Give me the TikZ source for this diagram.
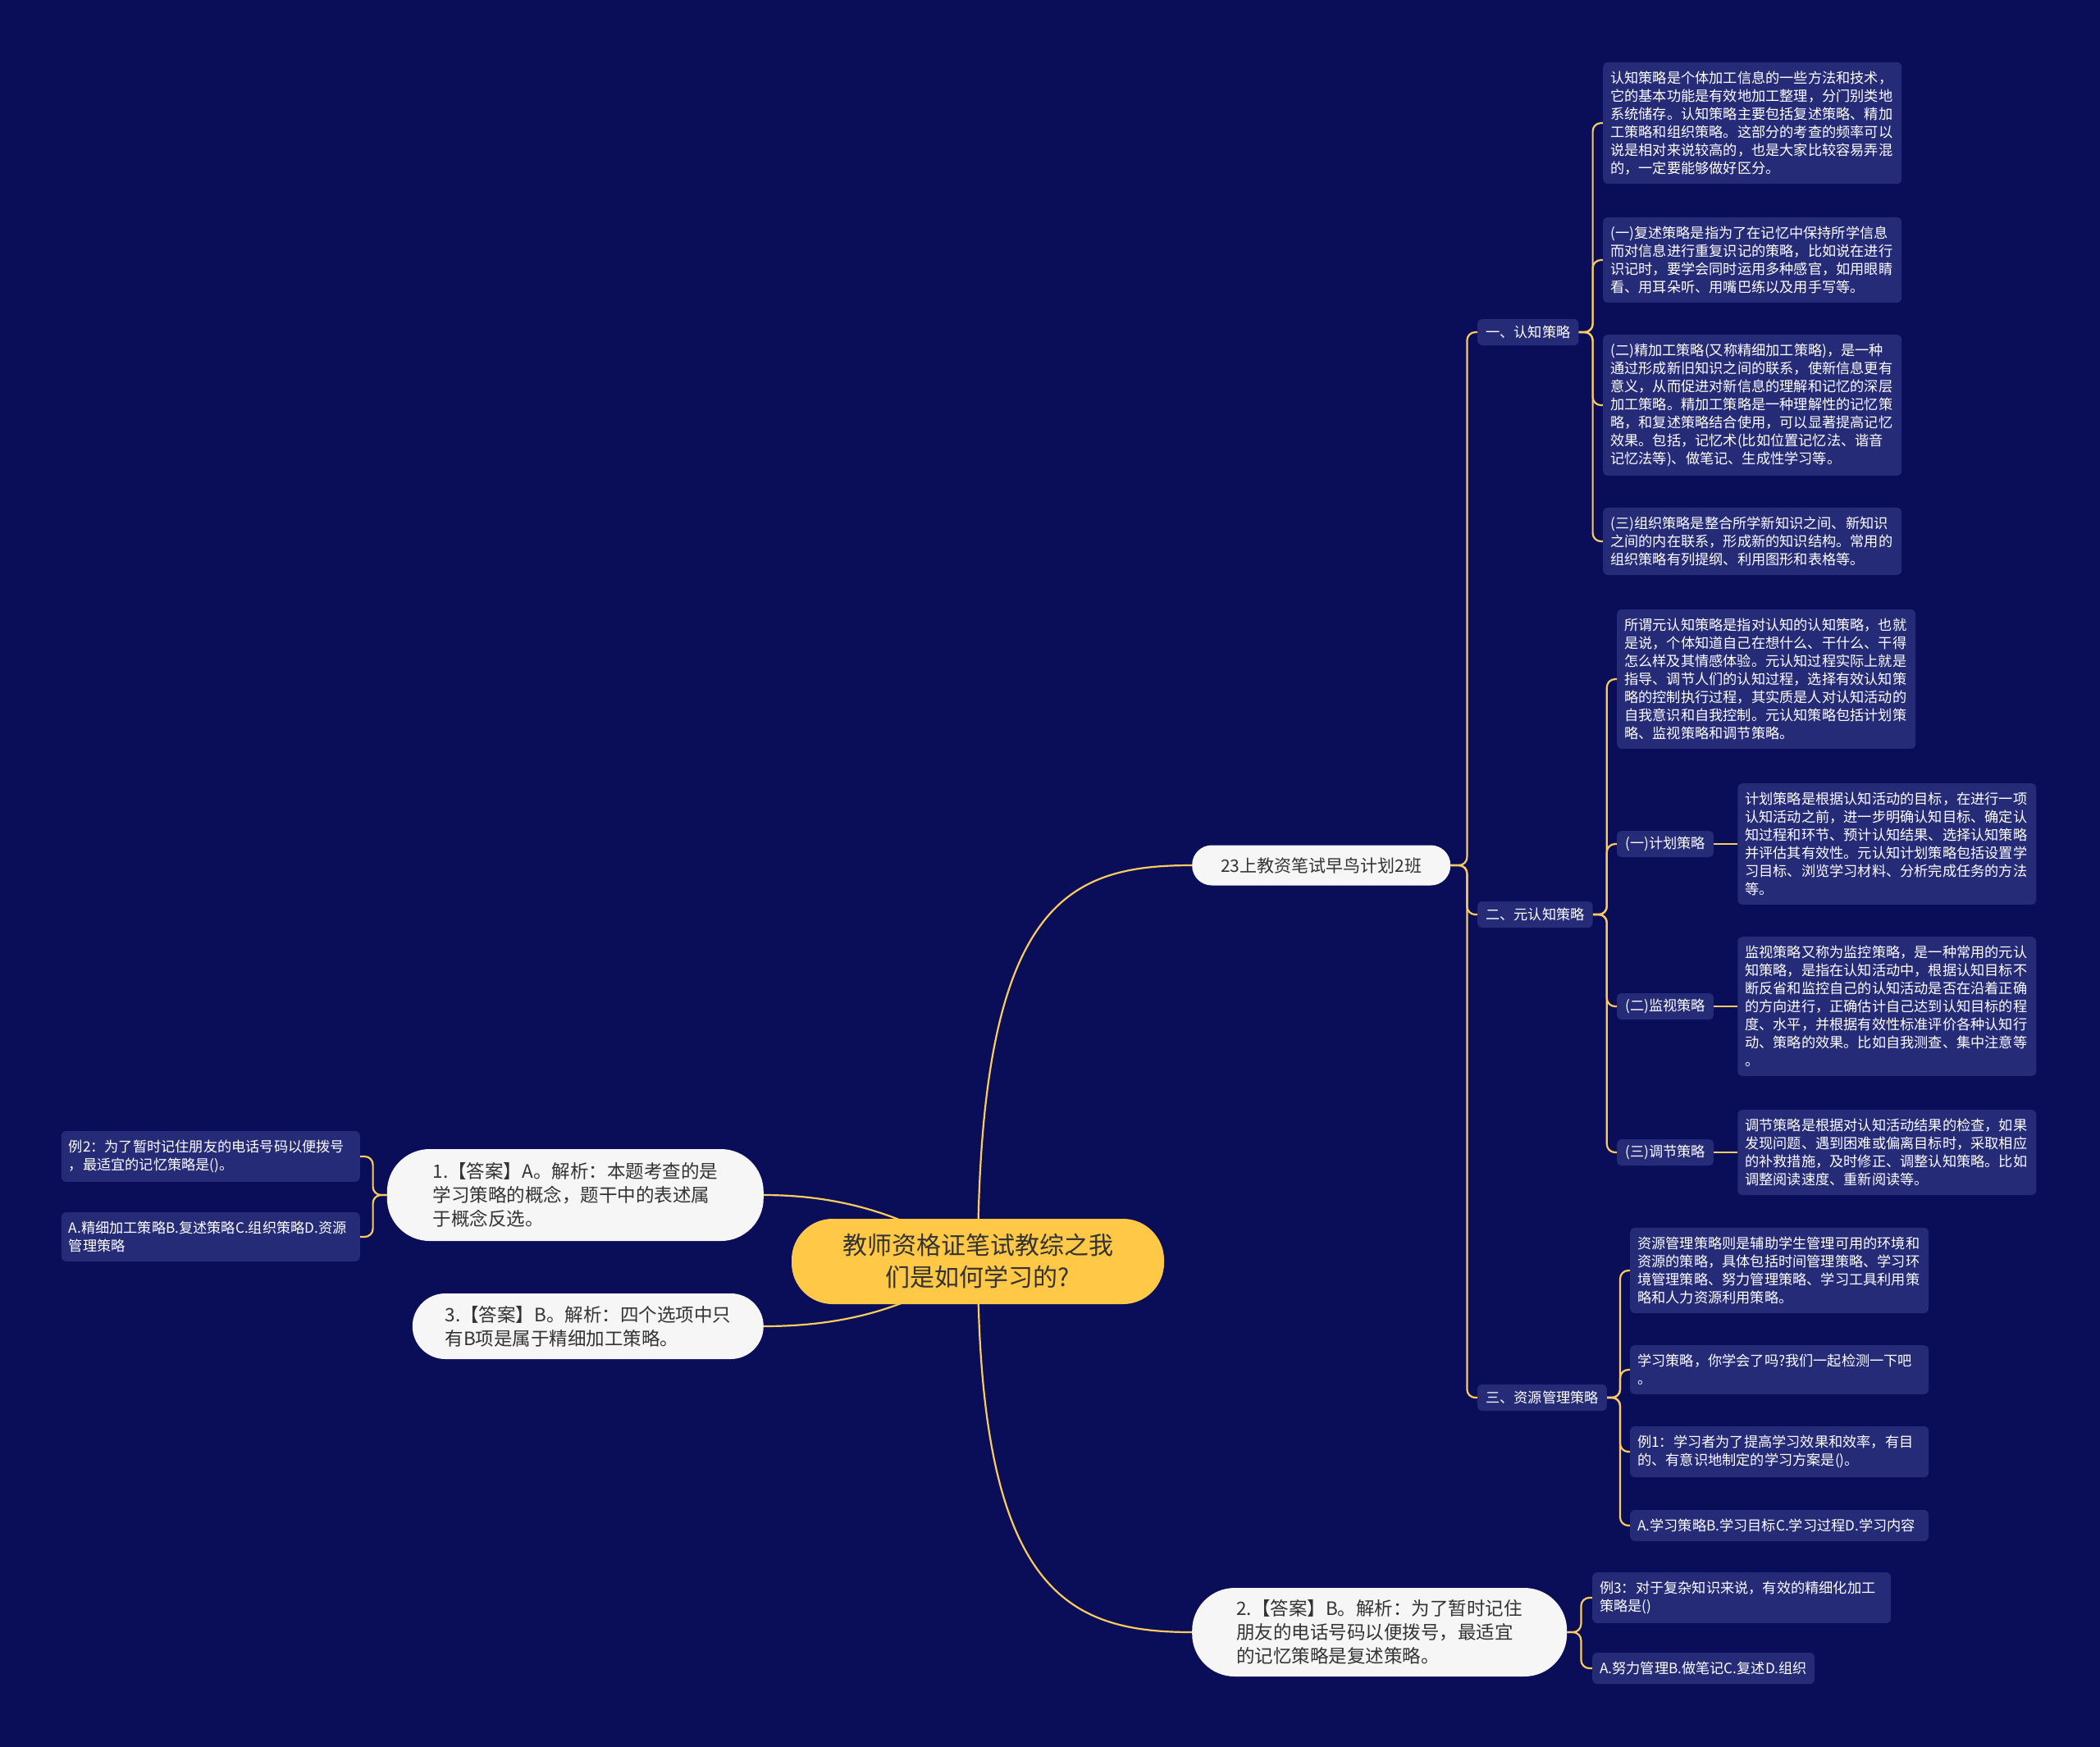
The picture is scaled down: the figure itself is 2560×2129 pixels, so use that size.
\documentclass[tikz,border=0pt]{standalone}
\usepackage{fontspec}
\setmainfont{Noto Sans CJK SC}
\usepackage{xcolor}
\usepackage{tikz}
\usetikzlibrary{positioning, backgrounds}
\definecolor{bgnavy}{RGB}{10,14,88}
\definecolor{boxblue}{RGB}{38,43,120}
\definecolor{linkyellow}{RGB}{250,204,96}
\definecolor{rootyellow}{RGB}{255,200,70}
\definecolor{pillwhite}{RGB}{246,246,246}
\definecolor{darktext}{RGB}{51,51,51}

\begin{document}
\begin{tikzpicture}[
    x=1pt, y=-1pt,
    root/.style={fill=rootyellow, text=darktext, rounded corners=50pt, align=center,
                 minimum width=454pt, minimum height=104pt, inner sep=0pt,
                 font=\fontsize{30}{39}\selectfont},
    pill/.style={fill=pillwhite, text=darktext, align=left, inner sep=0pt,
                 font=\fontsize{22.5}{29}\selectfont},
    sub/.style={fill=boxblue, text=white, rounded corners=5pt, inner xsep=10pt,
                minimum height=32pt, font=\fontsize{17.2}{22}\selectfont},
    leaf/.style={fill=boxblue, text=white, rounded corners=6pt, inner xsep=9pt,
                 inner ysep=11pt, align=left, font=\fontsize{17.2}{22}\selectfont},
    wideleaf/.style={leaf, text width=346pt},
    link/.style={draw=linkyellow, line width=2.2pt, rounded corners=10pt}
]
\useasboundingbox (0,0) rectangle (2560,2129);
\begin{scope}[on background layer]
  \fill[bgnavy] (-10,-10) rectangle (2570,2139);
\end{scope}

% ---- centre ----
\node[root] (root) at (1192,1538) {教师资格证笔试教综之我\\们是如何学习的?};

% ---- first level ----
\node[pill, anchor=west, minimum width=315pt, minimum height=49pt, rounded corners=24pt,
      font=\fontsize{21}{27}\selectfont] (cls) at (1453,1055) {23上教资笔试早鸟计划2班};
\node[pill, anchor=east, minimum width=459pt, minimum height=112pt, rounded corners=52pt]
      (ans1) at (931,1457) {1.【答案】A。解析：本题考查的是\\学习策略的概念，题干中的表述属\\于概念反选。};
\node[pill, anchor=east, minimum width=428pt, minimum height=80pt, rounded corners=40pt]
      (ans3) at (931,1617) {3.【答案】B。解析：四个选项中只\\有B项是属于精细加工策略。};
\node[pill, anchor=west, minimum width=457pt, minimum height=108pt, rounded corners=52pt]
      (ans2) at (1453,1990) {2.【答案】B。解析：为了暂时记住\\朋友的电话号码以便拨号，最适宜\\的记忆策略是复述策略。};

% ---- 一、认知策略 ----
\node[sub, anchor=west] (cog) at (1801,405) {一、认知策略};
\node[wideleaf, anchor=west] (cog1) at (1954,150) {认知策略是个体加工信息的一些方法和技术，\\它的基本功能是有效地加工整理，分门别类地\\系统储存。认知策略主要包括复述策略、精加\\工策略和组织策略。这部分的考查的频率可以\\说是相对来说较高的，也是大家比较容易弄混\\的，一定要能够做好区分。};
\node[wideleaf, anchor=west] (cog2) at (1954,317) {(一)复述策略是指为了在记忆中保持所学信息\\而对信息进行重复识记的策略，比如说在进行\\识记时，要学会同时运用多种感官，如用眼睛\\看、用耳朵听、用嘴巴练以及用手写等。};
\node[wideleaf, anchor=west] (cog3) at (1954,494) {(二)精加工策略(又称精细加工策略)，是一种\\通过形成新旧知识之间的联系，使新信息更有\\意义，从而促进对新信息的理解和记忆的深层\\加工策略。精加工策略是一种理解性的记忆策\\略，和复述策略结合使用，可以显著提高记忆\\效果。包括，记忆术(比如位置记忆法、谐音\\记忆法等)、做笔记、生成性学习等。};
\node[wideleaf, anchor=west] (cog4) at (1954,660) {(三)组织策略是整合所学新知识之间、新知识\\之间的内在联系，形成新的知识结构。常用的\\组织策略有列提纲、利用图形和表格等。};

% ---- 二、元认知策略 ----
\node[sub, anchor=west] (meta) at (1801,1115) {二、元认知策略};
\node[wideleaf, anchor=west] (meta0) at (1971,828) {所谓元认知策略是指对认知的认知策略，也就\\是说，个体知道自己在想什么、干什么、干得\\怎么样及其情感体验。元认知过程实际上就是\\指导、调节人们的认知过程，选择有效认知策\\略的控制执行过程，其实质是人对认知活动的\\自我意识和自我控制。元认知策略包括计划策\\略、监视策略和调节策略。};
\node[sub, anchor=west] (plan) at (1971,1029) {(一)计划策略};
\node[sub, anchor=west] (monitor) at (1971,1227) {(二)监视策略};
\node[sub, anchor=west] (regul) at (1971,1405) {(三)调节策略};
\node[wideleaf, right=29pt of plan] (plant) {计划策略是根据认知活动的目标，在进行一项\\认知活动之前，进一步明确认知目标、确定认\\知过程和环节、预计认知结果、选择认知策略\\并评估其有效性。元认知计划策略包括设置学\\习目标、浏览学习材料、分析完成任务的方法\\等。};
\node[wideleaf, right=29pt of monitor] (monitort) {监视策略又称为监控策略，是一种常用的元认\\知策略，是指在认知活动中，根据认知目标不\\断反省和监控自己的认知活动是否在沿着正确\\的方向进行，正确估计自己达到认知目标的程\\度、水平，并根据有效性标准评价各种认知行\\动、策略的效果。比如自我测查、集中注意等\\。};
\node[wideleaf, right=29pt of regul] (regult) {调节策略是根据对认知活动结果的检查，如果\\发现问题、遇到困难或偏离目标时，采取相应\\的补救措施，及时修正、调整认知策略。比如\\调整阅读速度、重新阅读等。};

% ---- 三、资源管理策略 ----
\node[sub, anchor=west] (res) at (1801,1704) {三、资源管理策略};
\node[wideleaf, anchor=west] (res1) at (1987,1549) {资源管理策略则是辅助学生管理可用的环境和\\资源的策略，具体包括时间管理策略、学习环\\境管理策略、努力管理策略、学习工具利用策\\略和人力资源利用策略。};
\node[wideleaf, anchor=west] (res2) at (1987,1670) {学习策略，你学会了吗?我们一起检测一下吧\\。};
\node[wideleaf, anchor=west] (res3) at (1987,1770) {例1：学习者为了提高学习效果和效率，有目\\的、有意识地制定的学习方案是()。};
\node[wideleaf, anchor=west] (res4) at (1987,1860) {A.学习策略B.学习目标C.学习过程D.学习内容};

% ---- examples ----
\node[wideleaf, anchor=west] (ex3) at (1941,1948) {例3：对于复杂知识来说，有效的精细化加工\\策略是()};
\node[leaf, anchor=west] (ex3opt) at (1941,2034) {A.努力管理B.做笔记C.复述D.组织};
\node[wideleaf, anchor=east] (ex2) at (439,1410) {例2：为了暂时记住朋友的电话号码以便拨号\\，最适宜的记忆策略是()。};
\node[wideleaf, anchor=east] (ex2opt) at (439,1508) {A.精细加工策略B.复述策略C.组织策略D.资源\\管理策略};

% ---- connectors ----
\begin{scope}[on background layer]
  \draw[link] (root.center) .. controls (1193,1100) and (1300,1055) .. (cls.west);
  \draw[link] (root.center) .. controls (1193,1940) and (1300,1990) .. (ans2.west);
  \draw[link] (root.center) .. controls (1120,1490) and (1040,1457) .. (ans1.east);
  \draw[link] (root.center) .. controls (1120,1590) and (1040,1617) .. (ans3.east);
  \foreach \t in {cog, meta, res}
    \draw[link] (cls.east) -- ++(20,0) |- (\t.west);
  \foreach \t in {cog1, cog2, cog3, cog4}
    \draw[link] (cog.east) -- ++(17,0) |- (\t.west);
  \foreach \t in {meta0, plan, monitor, regul}
    \draw[link] (meta.east) -- ++(17,0) |- (\t.west);
  \foreach \t in {res1, res2, res3, res4}
    \draw[link] (res.east) -- ++(16,0) |- (\t.west);
  \foreach \t in {ex3, ex3opt}
    \draw[link] (ans2.east) -- ++(17,0) |- (\t.west);
  \foreach \t in {ex2, ex2opt}
    \draw[link] (ans1.west) -- ++(-17,0) |- (\t.east);
  \draw[link] (plan.east) -- (plant.west);
  \draw[link] (monitor.east) -- (monitort.west);
  \draw[link] (regul.east) -- (regult.west);
\end{scope}
\end{tikzpicture}
\end{document}
